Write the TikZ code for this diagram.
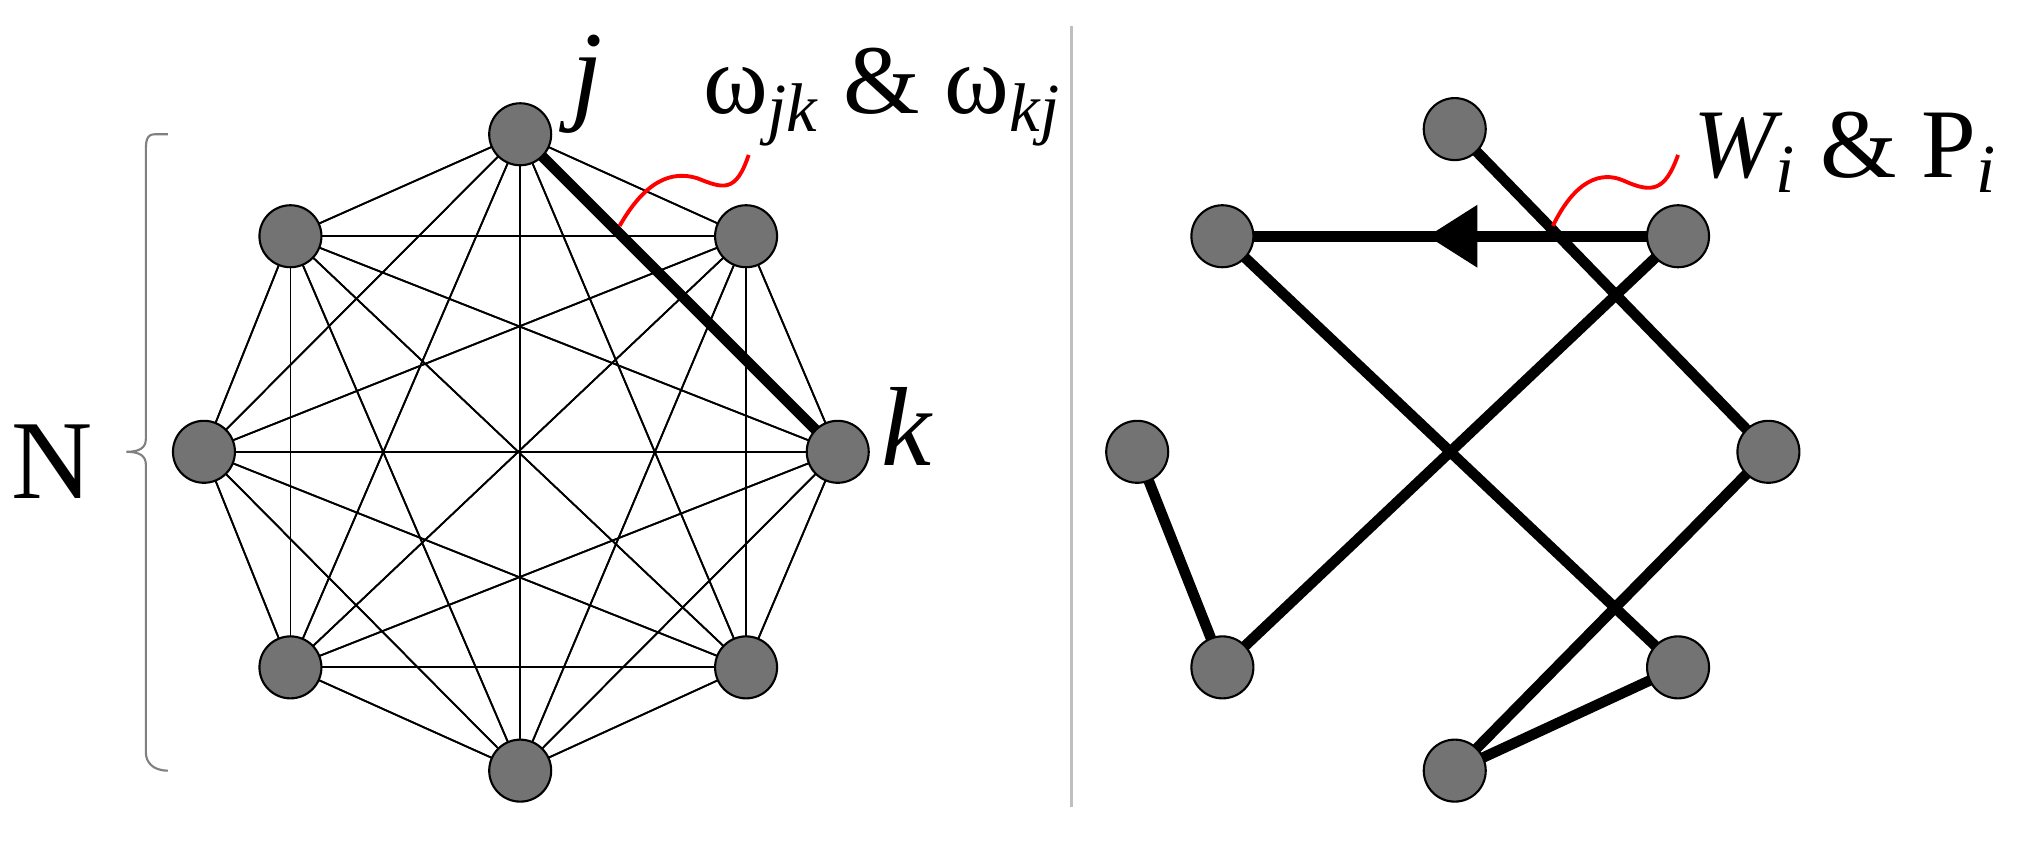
\documentclass[tikz,border=0pt]{standalone}
\usepackage{fontspec}
\setmainfont{Liberation Serif}
\usetikzlibrary{arrows.meta,decorations.markings}
\begin{document}
\begin{tikzpicture}[x=0.012908cm,y=-0.012908cm,
  nd/.style={circle,draw=black,line width=0.6pt,fill=black!55,minimum size=0.62cm,inner sep=0pt},
  thin/.style={line width=0.5pt},
  thick/.style={line width=3pt},
  wav/.style={red,line width=1.1pt}]
\useasboundingbox (0,0) rectangle (1568,651);
% left graph
\foreach \n/\x/\y in {a/403/104,b/578/183,c/649/350,d/578/517,e/403/597,f/225/517,g/158/350,h/225/183}
  \coordinate (\n) at (\x,\y);
\foreach \p in {a,b,c,d,e,f,g,h}
  \foreach \q in {a,b,c,d,e,f,g,h}
    {\draw[thin] (\p) -- (\q);}
\draw[thick] (a) -- (c);
\foreach \n in {a,b,c,d,e,f,g,h} \node[nd] (L\n) at (\n) {};
\node[font=\itshape\fontsize{32}{32}\selectfont] (lj) at (455,65) {j};
\node[font=\itshape\fontsize{32}{32}\selectfont] (lk) at (702,330) {k};
\node[font=\fontsize{28}{28}\selectfont,anchor=west] (lw) at (535,75) {ω\textsubscript{\itshape jk} \& ω\textsubscript{\itshape kj}};
\draw[wav] (480,175) .. controls (500,140) and (520,132) .. (540,138) .. controls (560,146) and (570,150) .. (580,120);
\draw[line width=0.6pt,gray] (130,104) -- (120,104) .. controls (113,104) and (113,110) .. (113,118) -- (113,340) .. controls (113,347) and (108,350) .. (98,350) .. controls (108,350) and (113,353) .. (113,360) -- (113,583) .. controls (113,590) and (118,597) .. (130,597);
\node[font=\fontsize{32}{32}\selectfont] (N) at (40,358) {N};
% divider
\draw[gray!50,line width=0.8pt] (830,20) -- (830,625);
% right graph
\foreach \n/\x/\y in {a/1127/100,b/947/183,c/1300/183,d/881/350,e/1370/350,f/947/517,g/1300/517,h/1127/597}
  \coordinate (R\n) at (\x,\y);
\draw[thick] (Ra) -- (Re);
\draw[thick] (Rb) -- (Rg);
\draw[thick] (Rc) -- (Rf);
\draw[thick] (Rd) -- (Rf);
\draw[thick] (Re) -- (Rh);
\draw[thick] (Rh) -- (Rg);
\draw[thick,decoration={markings,mark=at position 0.55 with {\arrow{Triangle[length=0.5cm,width=0.6cm]}}},postaction=decorate] (Rc) -- (Rb);
\foreach \n in {a,b,c,d,e,f,g,h} \node[nd] (N\n) at (R\n) {};
\node[font=\fontsize{28}{28}\selectfont,anchor=west] (lW) at (1302,118) {\textit{W\textsubscript{i}} \& P\textsubscript{\itshape i}};
\draw[wav] (1203,175) .. controls (1220,140) and (1240,132) .. (1258,140) .. controls (1280,150) and (1290,148) .. (1300,120);
\end{tikzpicture}
\end{document}
